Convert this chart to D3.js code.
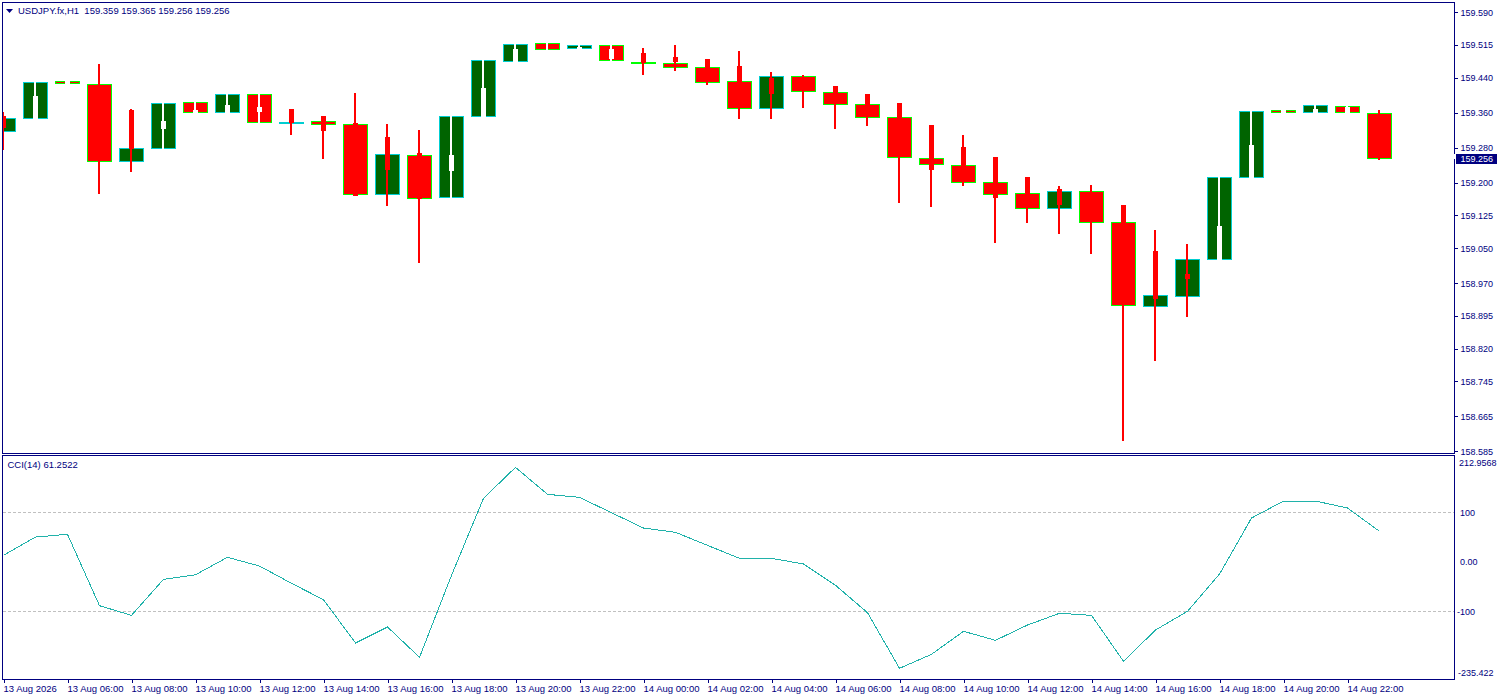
<!DOCTYPE html>
<html><head><meta charset="utf-8">
<script src="https://cdn.jsdelivr.net/npm/d3@7/dist/d3.min.js"></script>
<style>
html,body{margin:0;padding:0;background:#fff;overflow:hidden}
svg{display:block}
text{font-family:"Liberation Sans",Arial,sans-serif;font-size:9.5px;fill:#000080}
.yt text{font-size:9px}
</style></head><body><div id="chart"></div>
<script>
const title = "USDJPY.fx,H1  159.359 159.365 159.256 159.256";
const indicatorTitle = "CCI(14) 61.2522";
const lastPrice = 159.256;

const bullFlags = [1,1,0,0,1,1,0,1,0,1,0,0,1,0,1,1,1,0,1,0,0,0,0,0,1,0,0,0,0,0,0,0,0,1,0,0,1,1,1,1,0,1,0,0];
const whiteWick = [0,1,1,0,0,1,1,1,1,0,0,0,0,0,1,1,1,1,1,1,0,0,0,0,0,0,0,0,0,0,0,0,0,0,0,0,0,0,1,1,1,1,1,0];

const bodyTop = [159.346,159.429,159.431,159.424,159.278,159.381,159.383,159.401,159.401,159.337,159.340,159.333,159.264,159.262,159.351,159.479,159.516,159.518,159.514,159.514,159.475,159.472,159.463,159.431,159.443,159.443,159.406,159.379,159.349,159.255,159.239,159.200,159.175,159.179,159.179,159.108,158.941,159.024,159.211,159.363,159.365,159.376,159.374,159.358];
const bodyBottom = [159.317,159.346,159.427,159.248,159.248,159.278,159.360,159.360,159.337,159.335,159.333,159.173,159.173,159.163,159.166,159.351,159.477,159.504,159.507,159.479,159.472,159.463,159.429,159.369,159.369,159.408,159.379,159.349,159.257,159.241,159.200,159.173,159.141,159.141,159.108,158.919,158.916,158.939,159.024,159.211,159.360,159.360,159.360,159.255];
const thinHigh = [159.360,159.429,159.431,159.470,159.367,159.381,159.383,159.401,159.401,159.367,159.351,159.404,159.333,159.319,159.351,159.479,159.516,159.518,159.514,159.514,159.507,159.514,159.482,159.500,159.452,159.445,159.420,159.401,159.381,159.330,159.308,159.257,159.211,159.191,159.193,159.147,159.090,159.058,159.211,159.363,159.365,159.376,159.374,159.365];
const thinLow = [159.276,159.346,159.427,159.175,159.225,159.278,159.360,159.360,159.337,159.310,159.255,159.170,159.147,159.017,159.166,159.351,159.477,159.504,159.507,159.479,159.447,159.456,159.424,159.346,159.346,159.372,159.324,159.330,159.154,159.145,159.193,159.063,159.108,159.083,159.038,158.610,158.793,158.893,159.024,159.211,159.360,159.360,159.360,159.253];
const thickHigh = [159.351,159.397,159.431,159.422,159.365,159.340,159.365,159.376,159.372,159.367,159.351,159.335,159.303,159.266,159.262,159.415,159.504,159.511,159.509,159.504,159.495,159.486,159.482,159.465,159.438,159.440,159.420,159.401,159.381,159.330,159.280,159.257,159.211,159.184,159.177,159.147,159.042,158.989,159.099,159.285,159.365,159.367,159.372,159.356];
const thickLow = [159.326,159.346,159.427,159.250,159.278,159.324,159.360,159.360,159.363,159.337,159.319,159.170,159.230,159.163,159.228,159.351,159.477,159.511,159.507,159.484,159.475,159.477,159.463,159.431,159.404,159.411,159.406,159.379,159.349,159.230,159.239,159.166,159.175,159.150,159.111,159.108,158.935,158.980,159.024,159.211,159.360,159.360,159.360,159.257];

const cciValues = [12.9,49.7,55.2,-88.6,-108,-35.4,-26.2,8.9,-8.7,-43.5,-76.5,-163.7,-131.5,-192.5,-27.4,127.7,190.1,135.7,129.7,98.7,67.9,59.2,33,6.8,6.8,-4.6,-47.5,-102.7,-214.7,-186.5,-140.2,-158.3,-127.5,-103.9,-108,-200.6,-137.6,-99.9,-24.8,88,122.2,122.2,108.2,61.25];
const cciLevels = [100,-100];

const priceTicks = [159.590,159.515,159.440,159.360,159.280,159.200,159.125,159.050,158.970,158.895,158.820,158.745,158.665,158.585];
const cciTickLabels = ["212.9568","100","0.00","-100","-235.422"];
const cciTickValues = [199,100,0,-100,-223];
const timeTickIndex = d3.range(0,44,2);
const timeTickLabels = ["13 Aug 2026","13 Aug 06:00","13 Aug 08:00","13 Aug 10:00","13 Aug 12:00","13 Aug 14:00","13 Aug 16:00","13 Aug 18:00","13 Aug 20:00","13 Aug 22:00","14 Aug 00:00","14 Aug 02:00","14 Aug 04:00","14 Aug 06:00","14 Aug 08:00","14 Aug 10:00","14 Aug 12:00","14 Aug 14:00","14 Aug 16:00","14 Aug 18:00","14 Aug 20:00","14 Aug 22:00"];

const navy="#000080", up="#006400", upEdge="#00CED1", down="#FF0000", downEdge="#00FF00", lineCol="#20B2AA";
const L=2.5,R=1454.5,T=2.5,B=453.5,T2=455.5,B2=679.5;

const x = d3.scaleLinear().domain([0,43]).range([3.5,3.5+32*43]);
const y = d3.scaleLinear().domain([158.581,159.612]).range([453,2.5]);
const yc = d3.scaleLinear().domain([-235.422,212.9568]).range([678.6,456]);
const row = p => Math.floor(y(p));

const svg = d3.select("#chart").append("svg").attr("width",1500).attr("height",700);
svg.append("rect").attr("width",1500).attr("height",700).attr("fill","#fff");
const defs = svg.append("defs");
defs.append("clipPath").attr("id","main").append("rect").attr("x",3).attr("y",3).attr("width",1451).attr("height",450);

const n = bodyTop.length, idx = d3.range(n);
const gM = svg.append("g").attr("clip-path","url(#main)").attr("shape-rendering","crispEdges");

idx.forEach(i=>{
  const cx=x(i), col=whiteWick[i]?"#FFFFFF":down;
  gM.append("rect").attr("x",cx-12).attr("y",row(bodyTop[i])+.5)
    .attr("width",24).attr("height",row(bodyBottom[i])-row(bodyTop[i]))
    .attr("fill",bullFlags[i]?up:down).attr("stroke",bullFlags[i]?upEdge:downEdge).attr("stroke-width",1);
  gM.append("rect").attr("x",cx-1.5).attr("y",row(thinHigh[i])).attr("width",2)
    .attr("height",row(thinLow[i])+1-row(thinHigh[i])).attr("fill",col);
  if(thickHigh[i]!==thickLow[i]) gM.append("rect").attr("x",cx-2.5).attr("y",row(thickHigh[i])).attr("width",5)
    .attr("height",row(thickLow[i])+1-row(thickHigh[i])).attr("fill",col);
});

const gC = svg.append("g");
gC.selectAll("line.level").data(cciLevels).join("line").attr("class","level")
  .attr("x1",3).attr("x2",1454).attr("y1",d=>Math.floor(yc(d))+.5).attr("y2",d=>Math.floor(yc(d))+.5)
  .attr("stroke","#C0C0C0").attr("stroke-dasharray","3,2").attr("shape-rendering","crispEdges");
gC.append("path").datum(cciValues)
  .attr("d",d3.line().x((d,i)=>x(i)).y(d=>yc(d)))
  .attr("fill","none").attr("stroke",lineCol).attr("stroke-width",1).attr("shape-rendering","crispEdges");

// frames
const frame = svg.append("g").attr("fill","none").attr("stroke",navy).attr("shape-rendering","crispEdges");
frame.append("rect").attr("x",L).attr("y",T).attr("width",R-L).attr("height",B-T);
frame.append("rect").attr("x",L).attr("y",T2).attr("width",R-L).attr("height",B2-T2);

// price axis
const yAxis = d3.axisRight(y).tickValues(priceTicks).tickFormat(d3.format(".3f")).tickSize(3).tickPadding(3);
const gy = svg.append("g").attr("class","yt").attr("transform","translate(1455,0)").call(yAxis);
gy.select(".domain").remove();
gy.selectAll("line").attr("stroke",navy).attr("shape-rendering","crispEdges");
gy.selectAll("text").attr("x",5.5).attr("dy","0.34em");

// price tag
svg.append("rect").attr("x",1453).attr("y",154).attr("width",3).attr("height",5).attr("fill","#fff");
svg.append("rect").attr("x",1456).attr("y",154).attr("width",41).attr("height",10).attr("fill",navy);
svg.append("text").attr("class","tag").attr("x",1460.5).attr("y",y(lastPrice)+1).attr("dy","0.34em").style("fill","#fff").style("font-size","9px").text(d3.format(".3f")(lastPrice));

// cci axis labels
const ca = d3.axisRight(yc).tickValues(cciTickValues).tickFormat((d,i)=>cciTickLabels[i]).tickSize(0).tickPadding(0);
const gca = svg.append("g").attr("class","yt").attr("transform","translate(1455,0)").call(ca);
gca.select(".domain").remove();
gca.selectAll("line").remove();
gca.selectAll("text").attr("x",(d,i)=>[4,5,5,2,3][i]).attr("dy","0.34em");

// time axis
const xa = d3.axisBottom(x).tickValues(timeTickIndex).tickFormat((d,i)=>timeTickLabels[i]).tickSize(3).tickPadding(0);
const gx = svg.append("g").attr("transform","translate(0,680)").call(xa);
gx.select(".domain").remove();
gx.selectAll("line").attr("stroke",navy).attr("shape-rendering","crispEdges");
gx.selectAll("text").attr("text-anchor","start").attr("x",-0.5).attr("y",12).attr("dy",0);

// titles
svg.append("path").attr("d",d3.line()([[6,9],[13,9],[9.5,13]])+"Z").attr("fill",navy);
svg.append("text").attr("x",18).attr("y",14).style("white-space","pre").text(title);
svg.append("text").attr("x",7.5).attr("y",468).text(indicatorTitle);
</script></body></html>
